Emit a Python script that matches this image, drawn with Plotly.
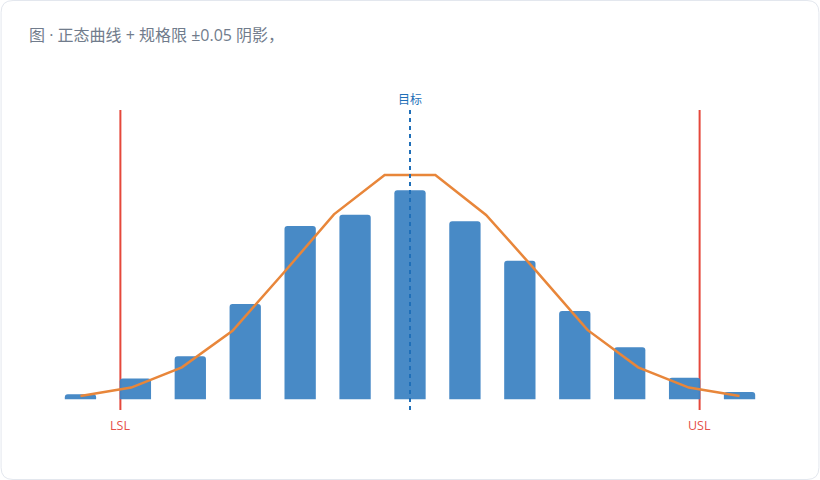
import plotly.graph_objects as go

# ---- data ----
bin_index = list(range(13))
bin_counts = [2.4, 10.0, 20.6, 45.6, 82.9, 88.3, 100.0, 85.2, 66.3, 42.2, 24.9, 10.3, 3.5]
curve_x = [i * 12 / 13 for i in range(14)]
curve_y = [1.6, 5.6, 15.3, 32.8, 60.3, 88.5, 107.3, 107.3, 88.2, 61.1, 33.2, 15.3, 5.6, 1.6]
lsl_x = 0.727
usl_x = 11.273
target_x = 6.0
title_text = "图 · 正态曲线 + 规格限 ±0.05 阴影，"

W, H = 820, 480
ML, MR, MT, MB = 52.5, 52.5, 110, 70
PW, PH = W - ML - MR, H - MT - MB

def px(p):
    return (p - ML) / PW

def py(p):
    return (H - MB - p) / PH

FONT = "Open Sans, Noto Sans CJK SC, sans-serif"

fig = go.Figure()
fig.add_trace(go.Bar(
    x=bin_index, y=bin_counts, width=0.57,
    marker=dict(color="#3f84c4", line=dict(width=0)), opacity=0.95,
    hoverinfo="skip", showlegend=False,
))
fig.add_trace(go.Scatter(
    x=curve_x, y=curve_y, mode="lines",
    line=dict(color="#e8863a", width=2.5),
    hoverinfo="skip", showlegend=False,
))

shapes = []
# rounded card border
r = 12
x0, x1, y0, y1 = 0.5, 819.5, 0.5, 479.5
path = (
    f"M {px(x0 + r)},{py(y0)} L {px(x1 - r)},{py(y0)} "
    f"Q {px(x1)},{py(y0)} {px(x1)},{py(y0 + r)} "
    f"L {px(x1)},{py(y1 - r)} Q {px(x1)},{py(y1)} {px(x1 - r)},{py(y1)} "
    f"L {px(x0 + r)},{py(y1)} Q {px(x0)},{py(y1)} {px(x0)},{py(y1 - r)} "
    f"L {px(x0)},{py(y0 + r)} Q {px(x0)},{py(y0)} {px(x0 + r)},{py(y0)} Z"
)
shapes.append(dict(type="path", xref="paper", yref="paper", path=path,
                   line=dict(color="#e3e7ee", width=1), layer="below"))
for xv in (lsl_x, usl_x):
    shapes.append(dict(type="line", xref="x", yref="paper", x0=xv, x1=xv, y0=0, y1=1,
                       line=dict(color="#e5483b", width=2), layer="below"))
shapes.append(dict(type="line", xref="x", yref="paper", x0=target_x, x1=target_x, y0=0, y1=1,
                   line=dict(color="#1f6fb8", width=2, dash="4px,4px"), layer="above"))

annotations = [
    dict(text=title_text, xref="paper", yref="paper", x=px(26), y=py(35),
         xanchor="left", yanchor="middle", showarrow=False,
         font=dict(family=FONT, size=16, color="#717c8c")),
    dict(text="目标", xref="x", yref="paper", x=target_x, y=py(100),
         xanchor="center", yanchor="middle", showarrow=False,
         font=dict(family=FONT, size=12, color="#1f6fb8")),
    dict(text="LSL", xref="x", yref="paper", x=lsl_x, y=py(425),
         xanchor="center", yanchor="middle", showarrow=False,
         font=dict(family=FONT, size=12.5, color="#e5504a")),
    dict(text="USL", xref="x", yref="paper", x=usl_x, y=py(425),
         xanchor="center", yanchor="middle", showarrow=False,
         font=dict(family=FONT, size=12.5, color="#e5504a")),
]

fig.update_layout(
    width=W, height=H,
    margin=dict(l=ML, r=MR, t=MT, b=MB, pad=0),
    paper_bgcolor="white", plot_bgcolor="rgba(0,0,0,0)",
    xaxis=dict(range=[-0.5, 12.5], visible=False, fixedrange=True),
    yaxis=dict(range=[-10.7 / 2.09, 289.3 / 2.09], visible=False, fixedrange=True),
    barcornerradius=3,
    shapes=shapes, annotations=annotations,
    font=dict(family=FONT),
)

fig.write_html("out.html", config={"displayModeBar": False},
               post_script="document.body.style.margin='0';")
